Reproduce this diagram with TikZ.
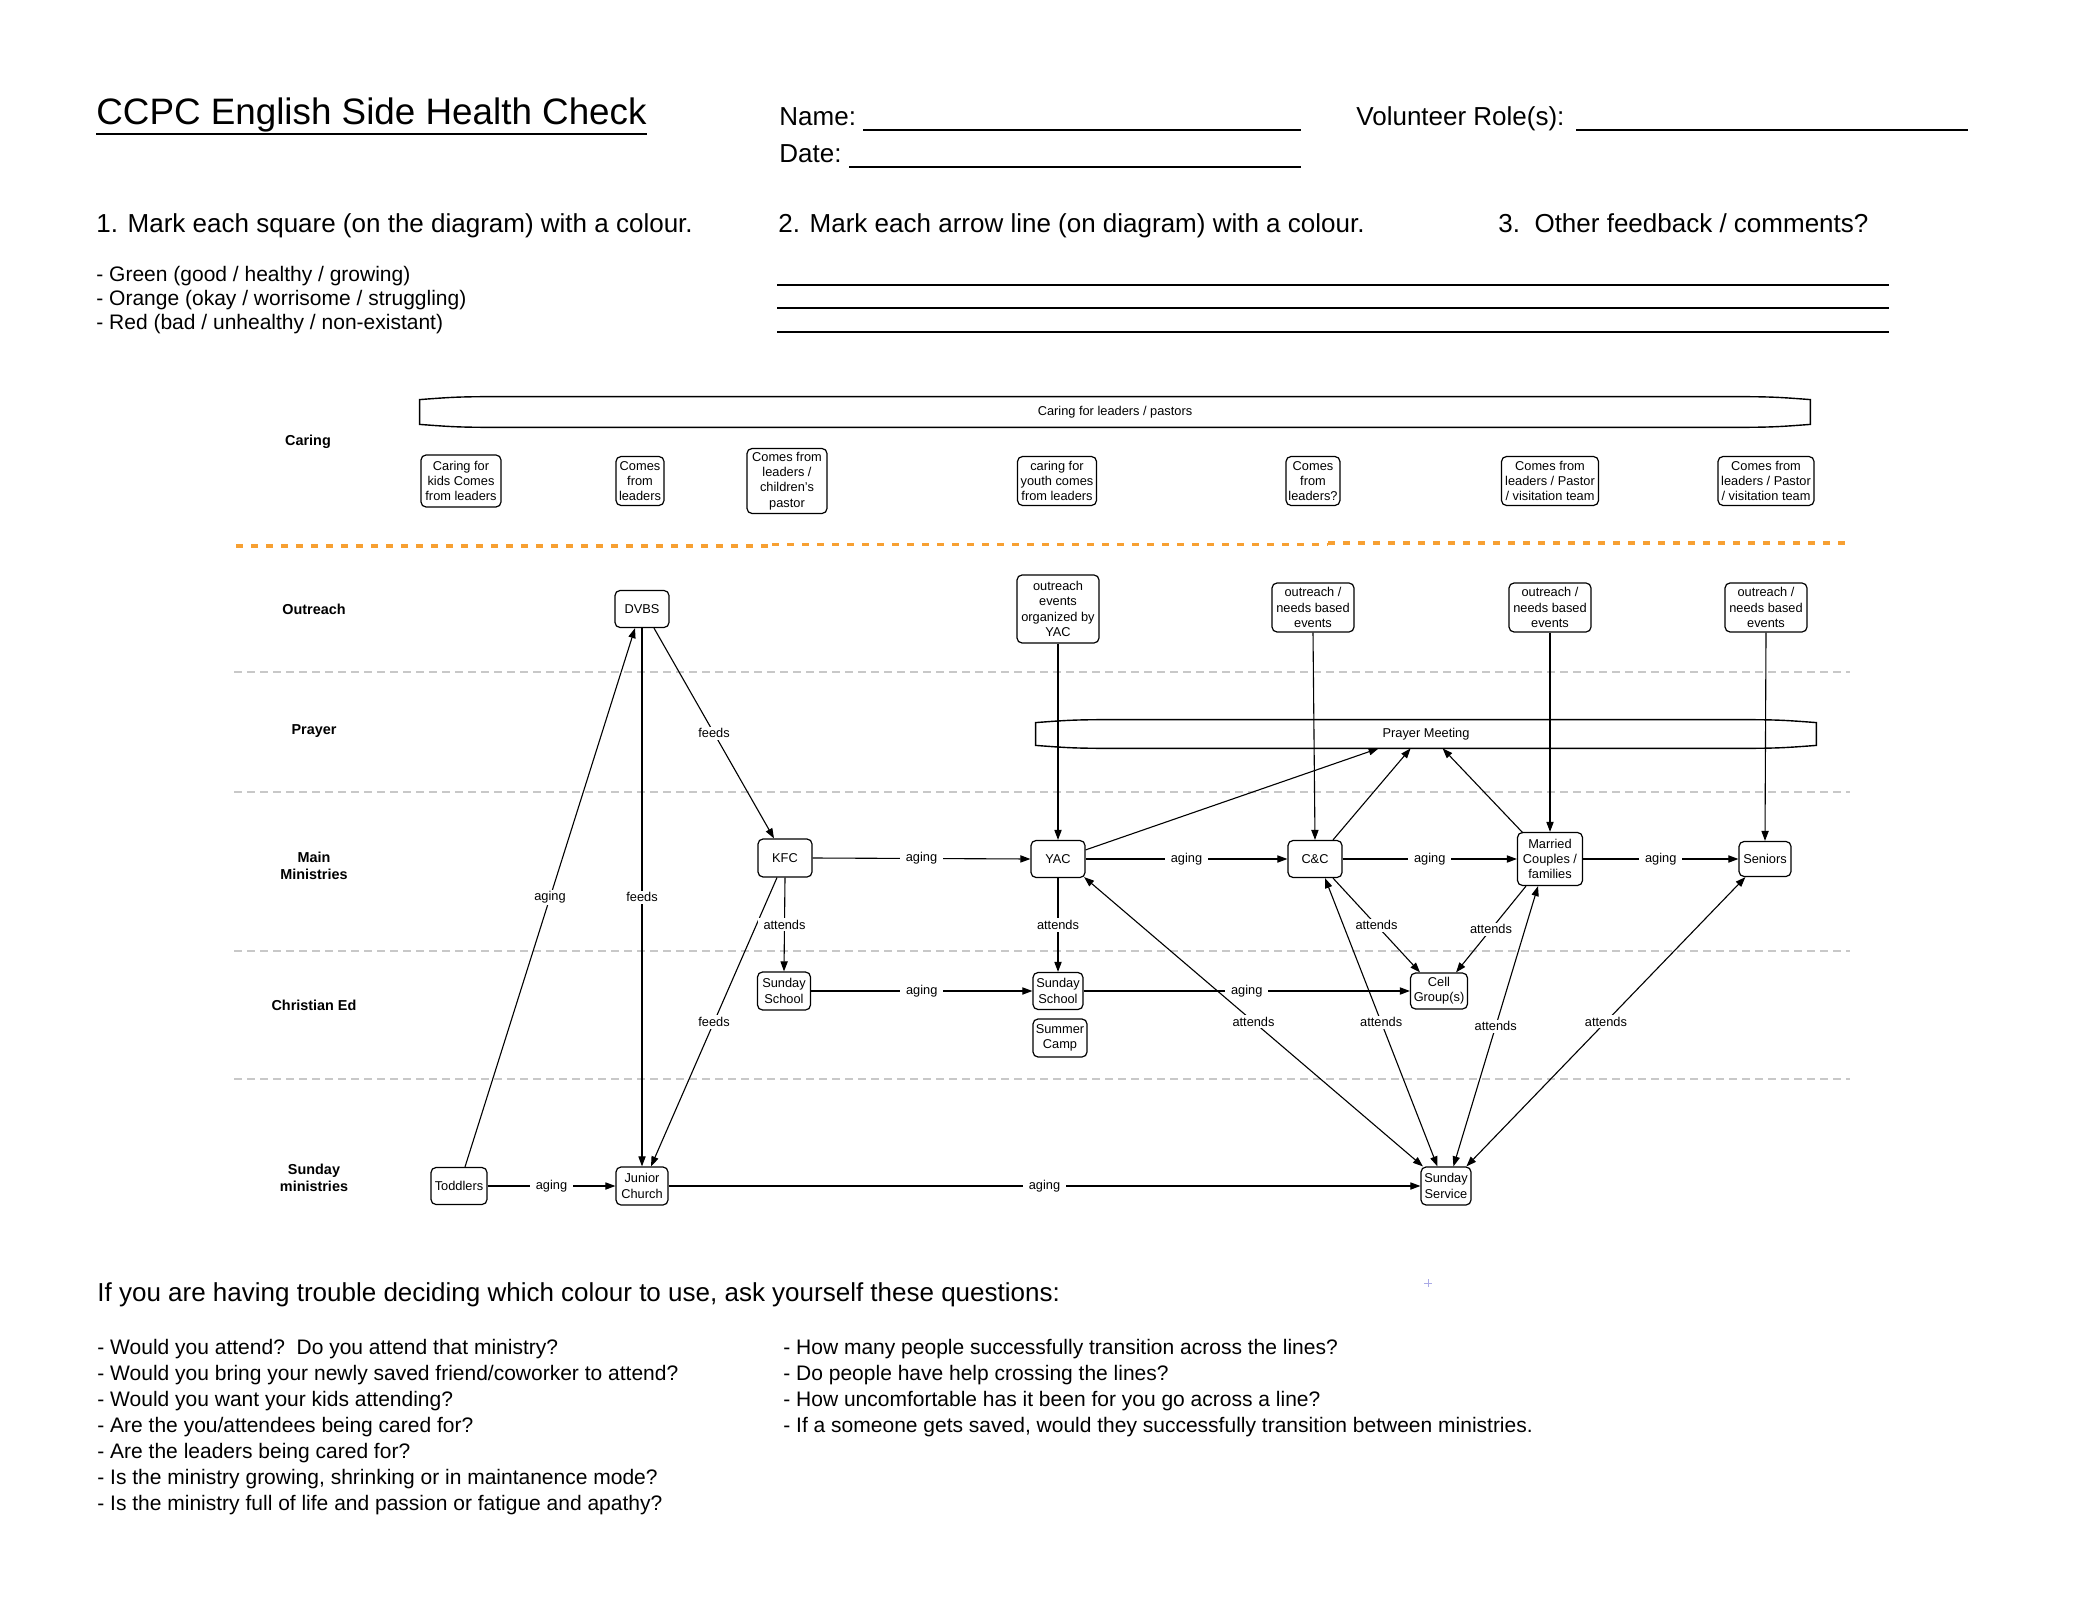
\documentclass[tikz,border=0pt]{standalone}
\usepackage{fontspec}
\setmainfont{Liberation Sans}
\usetikzlibrary{arrows.meta,calc}
\newcommand{\fTitle}{\fontsize{18.4}{22}\selectfont}
\newcommand{\fHead}{\fontsize{13}{15}\selectfont}
\newcommand{\fBody}{\fontsize{10.5}{12.5}\selectfont}
\newcommand{\fSmall}{\fontsize{6.4}{7.6}\selectfont}
\newcommand{\fLane}{\bfseries\fontsize{7.2}{8.6}\selectfont}
\definecolor{dashorange}{RGB}{247,160,50}
\definecolor{sepgray}{RGB}{200,200,200}
\definecolor{plusblue}{RGB}{170,170,230}
\tikzset{
  txt/.style={anchor=base west, inner sep=0pt},
  box/.style={draw, fill=white, rounded corners=2.5pt, align=center, inner sep=0.5pt, font=\fSmall, line width=0.6pt},
  lane/.style={font=\fLane, align=center, inner sep=0pt},
  edge/.style={line width=0.55pt, -{Triangle[length=5pt,width=3.6pt]}},
  biedge/.style={line width=0.55pt, {Triangle[length=5pt,width=3.6pt]}-{Triangle[length=5pt,width=3.6pt]}},
  lbl/.style={fill=white, inner xsep=3pt, inner ysep=1pt, font=\fSmall},
  sepline/.style={draw=sepgray, dash pattern=on 4pt off 2.5pt, line width=0.7pt},
  orangeline/.style={draw=dashorange, dash pattern=on 3.7pt off 3.8pt, line width=1.7pt},
  hline/.style={line width=1pt},
  barline/.style={line width=0.7pt},
  bar/.style={inner sep=0pt, font=\fSmall}
}
\begin{document}
\begin{tikzpicture}[x=0.5pt, y=-0.5pt]
\fill[white] (0,0) rectangle (2082,1609);
\useasboundingbox (0,0) rectangle (2082,1609);

% ---------- header ----------
\node[txt, font=\fTitle] (title) at (96,125) {CCPC English Side Health Check};
\draw[hline] ($(title.base west)+(0,9)$) -- ($(title.base east)+(0,9)$);
\node[txt, font=\fHead] (name) at (779,126) {Name:};
\node[txt, font=\fHead] (date) at (779,163) {Date:};
\node[txt, font=\fHead] (role) at (1356,126) {Volunteer Role(s):};
\draw[hline] (863,130.5) -- (1301,130.5);
\draw[hline] (849,167) -- (1301,167);
\draw[hline] (1576,130.5) -- (1968,130.5);

\node[txt, font=\fHead] (h1) at (96,233) {1. Mark each square (on the diagram) with a colour.};
\node[txt, font=\fHead] (h2) at (778,233) {2. Mark each arrow line (on diagram) with a colour.};
\node[txt, font=\fHead] (h3) at (1498,233) {3.\ \ Other feedback / comments?};

\node[txt, font=\fBody] (b1) at (96,282) {- Green (good / healthy / growing)};
\node[txt, font=\fBody] (b2) at (96,306) {- Orange (okay / worrisome / struggling)};
\node[txt, font=\fBody] (b3) at (96,330) {- Red (bad / unhealthy / non-existant)};

\draw[hline] (777,285) -- (1889,285);
\draw[hline] (777,308.5) -- (1889,308.5);
\draw[hline] (777,332.5) -- (1889,332.5);

% ---------- lanes ----------
\draw[orangeline] (236,546) -- (772,546);
\draw[orangeline] (772,544.5) -- (1328,544.5);
\draw[orangeline] (1328,543) -- (1848,543);
\draw[sepline] (234,672) -- (1850,672);
\draw[sepline] (234,792) -- (1850,792);
\draw[sepline] (234,951) -- (1850,951);
\draw[sepline] (234,1079) -- (1850,1079);

\node[lane] (lcaring) at (308,442) {Caring};
\node[lane] (lout) at (314,609) {Outreach};
\node[lane] (lpray) at (314,731) {Prayer};
\node[lane] (lmain) at (314,866) {Main\\Ministries};
\node[lane] (led) at (314,1005) {Christian Ed};
\node[lane] (lsun) at (314,1178) {Sunday\\ministries};

% ---------- bars ----------
\node[bar, minimum width=695pt, minimum height=15pt] (caring) at (1115,412) {Caring for leaders / pastors};
\draw[barline] ($(caring.north west)+(0,3)$) .. controls ($(caring.north west)+(40,0)$) .. ($(caring.north west)+(110,0)$)
  -- ($(caring.north east)+(-110,0)$) .. controls ($(caring.north east)+(-40,0)$) .. ($(caring.north east)+(0,3)$)
  -- ($(caring.south east)+(0,-3)$) .. controls ($(caring.south east)+(-40,0)$) .. ($(caring.south east)+(-110,0)$)
  -- ($(caring.south west)+(110,0)$) .. controls ($(caring.south west)+(40,0)$) .. ($(caring.south west)+(0,-3)$) -- cycle;

\node[bar, minimum width=390pt, minimum height=14pt] (prayer) at (1426,734) {Prayer Meeting};
\draw[barline] ($(prayer.north west)+(0,3)$) .. controls ($(prayer.north west)+(40,0)$) .. ($(prayer.north west)+(110,0)$)
  -- ($(prayer.north east)+(-110,0)$) .. controls ($(prayer.north east)+(-40,0)$) .. ($(prayer.north east)+(0,3)$)
  -- ($(prayer.south east)+(0,-3)$) .. controls ($(prayer.south east)+(-40,0)$) .. ($(prayer.south east)+(-110,0)$)
  -- ($(prayer.south west)+(110,0)$) .. controls ($(prayer.south west)+(40,0)$) .. ($(prayer.south west)+(0,-3)$) -- cycle;

% ---------- caring boxes ----------
\node[box, minimum width=40pt, minimum height=26pt] (c1) at (461,481) {Caring for\\kids Comes\\from leaders};
\node[box, minimum width=24pt, minimum height=24.5pt] (c2) at (640,481) {Comes\\from\\leaders};
\node[box, minimum width=40pt, minimum height=32.5pt] (c3) at (787,481) {Comes from\\leaders /\\children's\\pastor};
\node[box, minimum width=39.5pt, minimum height=24.5pt] (c4) at (1057,481) {caring for\\youth comes\\from leaders};
\node[box, minimum width=25pt, minimum height=24.5pt, inner xsep=1.2pt] (c5) at (1313,481) {Comes\\from\\leaders?};
\node[box, minimum width=48.5pt, minimum height=24.5pt] (c6) at (1550,481) {Comes from\\leaders / Pastor\\/ visitation team};
\node[box, minimum width=48pt, minimum height=24.5pt] (c7) at (1766,481) {Comes from\\leaders / Pastor\\/ visitation team};

% ---------- outreach ----------
\node[box, minimum width=27pt, minimum height=18.5pt] (dvbs) at (642,609) {DVBS};
\node[box, minimum width=41pt, minimum height=34pt] (oyac) at (1058,609) {outreach\\events\\organized by\\YAC};
\node[box, minimum width=41pt, minimum height=24.5pt] (occ) at (1313,607.5) {outreach /\\needs based\\events};
\node[box, minimum width=41pt, minimum height=24.5pt] (omc) at (1550,607.5) {outreach /\\needs based\\events};
\node[box, minimum width=41pt, minimum height=24.5pt] (osen) at (1766,607.5) {outreach /\\needs based\\events};

% ---------- main ministries ----------
\node[box, minimum width=27pt, minimum height=19pt] (kfc) at (785,858) {KFC};
\node[box, minimum width=27pt, minimum height=18.5pt] (yac) at (1058,859) {YAC};
\node[box, minimum width=27pt, minimum height=18.5pt] (cc) at (1315,859) {C\&C};
\node[box, minimum width=32.5pt, minimum height=26.5pt] (mc) at (1550,859) {Married\\Couples /\\families};
\node[box, minimum width=26pt, minimum height=17.5pt] (sen) at (1765,859) {Seniors};

% ---------- christian ed ----------
\node[box, minimum width=26.5pt, minimum height=19pt] (ss1) at (784,991) {Sunday\\School};
\node[box, minimum width=25pt, minimum height=18.5pt] (ss2) at (1058,991) {Sunday\\School};
\node[box, minimum width=27pt, minimum height=19pt] (camp) at (1060,1038) {Summer\\Camp};
\node[box, minimum width=28.5pt, minimum height=18pt] (cell) at (1439,991) {Cell\\Group(s)};

% ---------- sunday ----------
\node[box, minimum width=28pt, minimum height=18.5pt] (tod) at (459,1186) {Toddlers};
\node[box, minimum width=26pt, minimum height=19pt] (jc) at (642,1186) {Junior\\Church};
\node[box, minimum width=25pt, minimum height=19pt] (ss) at (1446,1186) {Sunday\\Service};

% ---------- connectors ----------
\draw[edge] ($(tod.north)+(6,0)$) -- node[lbl] (e1) {aging} ($(dvbs.south)+(-7,0)$);
\draw[edge] (dvbs.south) -- node[lbl] (e2) {feeds} (jc.north);
\draw[edge] ($(dvbs.south)+(12,0)$) -- node[lbl] (e3) {feeds} ($(kfc.north)+(-11,0)$);
\draw[edge] ($(kfc.south)+(-8,0)$) -- node[lbl] (e4) {feeds} ($(jc.north)+(9,0)$);
\draw[edge] (kfc.south) -- node[lbl] (e5) {attends} (ss1.north);
\draw[edge] (kfc.east) -- node[lbl] (e6) {aging} (yac.west);
\draw[edge] (yac.south) -- node[lbl] (e7) {attends} (ss2.north);
\draw[edge] (ss1.east) -- node[lbl] (e8) {aging} (ss2.west);
\draw[edge] (ss2.east) -- node[lbl] (e9) {aging} (cell.west);
\draw[edge] (yac.east) -- node[lbl] (e10) {aging} (cc.west);
\draw[edge] (cc.east) -- node[lbl] (e11) {aging} (mc.west);
\draw[edge] (mc.east) -- node[lbl] (e12) {aging} (sen.west);
\draw[edge] (tod.east) -- node[lbl] (e13) {aging} (jc.west);
\draw[edge] (jc.east) -- node[lbl] (e14) {aging} (ss.west);

\draw[edge] (oyac.south) -- (yac.north);
\draw[edge] (occ.south) -- (cc.north);
\draw[edge] (omc.south) -- (mc.north);
\draw[edge] (osen.south) -- (sen.north);

\coordinate (pmA) at ($(prayer.south west)+(343,0)$);
\coordinate (pmB) at ($(prayer.south west)+(375,0)$);
\coordinate (pmC) at ($(prayer.south west)+(407,0)$);
\draw[edge] ($(yac.north east)+(0,10)$) -- (pmA);
\draw[edge] ($(cc.north)+(18,0)$) -- (pmB);
\draw[edge] ($(mc.north west)+(6,1)$) -- (pmC);

\draw[edge] ($(cc.south)+(18,0)$) -- node[lbl] (e15) {attends} ($(cell.north)+(-19,0)$);
\draw[edge] ($(mc.south)+(-24,0)$) -- node[lbl] (e16) {attends} ($(cell.north)+(17,0)$);

\draw[biedge] ($(yac.south east)+(-1.5,-1)$) -- node[lbl] (e17) {attends} ($(ss.north west)+(2.5,0)$);
\draw[biedge] ($(cc.south)+(10,0)$) -- node[lbl] (e18) {attends} ($(ss.north west)+(17,0)$);
\draw[biedge] ($(mc.south)+(-12,0)$) -- node[lbl] (e19) {attends} ($(ss.north west)+(33,0)$);
\draw[biedge] ($(sen.south west)+(7,0)$) -- node[lbl] (e20) {attends} ($(ss.north west)+(46,0)$);

% stray mark
\draw[plusblue, line width=0.5pt] (1424,1283) -- (1432,1283) (1428,1279) -- (1428,1287);

% ---------- questions ----------
\node[txt, font=\fHead] (qh) at (97,1301) {If you are having trouble deciding which colour to use, ask yourself these questions:};
\node[txt, font=\fBody] (q1) at (97,1354) {- Would you attend?\ \ Do you attend that ministry?};
\node[txt, font=\fBody] (q2) at (97,1380) {- Would you bring your newly saved friend/coworker to attend?};
\node[txt, font=\fBody] (q3) at (97,1406) {- Would you want your kids attending?};
\node[txt, font=\fBody] (q4) at (97,1432) {- Are the you/attendees being cared for?};
\node[txt, font=\fBody] (q5) at (97,1458) {- Are the leaders being cared for?};
\node[txt, font=\fBody] (q6) at (97,1484) {- Is the ministry growing, shrinking or in maintanence mode?};
\node[txt, font=\fBody] (q7) at (97,1510) {- Is the ministry full of life and passion or fatigue and apathy?};
\node[txt, font=\fBody] (r1) at (783,1354) {- How many people successfully transition across the lines?};
\node[txt, font=\fBody] (r2) at (783,1380) {- Do people have help crossing the lines?};
\node[txt, font=\fBody] (r3) at (783,1406) {- How uncomfortable has it been for you go across a line?};
\node[txt, font=\fBody] (r4) at (783,1432) {- If a someone gets saved, would they successfully transition between ministries.};
\end{tikzpicture}
\end{document}
